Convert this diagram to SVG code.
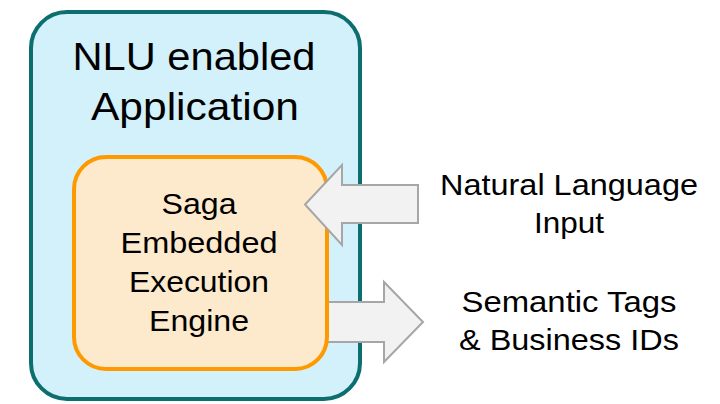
<svg xmlns="http://www.w3.org/2000/svg" width="720" height="404" viewBox="0 0 720 404">
<style>
text { font-family: "Liberation Sans", Arial, sans-serif; fill: #000; text-anchor: middle; }
.title { font-size: 39px; }
.lbl { font-size: 29.5px; }
.arrow { fill: #f2f2f2; stroke: #a6a6a6; stroke-width: 2; stroke-linejoin: miter; }
</style>
<rect width="720" height="404" fill="#ffffff"/>
<g id="app">
  <rect x="31" y="12" width="329" height="387" rx="36" ry="36" fill="#d3f1fb" stroke="#0c6e6e" stroke-width="4"/>
  <text class="title" x="194" y="70" textLength="243" lengthAdjust="spacingAndGlyphs">NLU enabled</text>
  <text class="title" x="195" y="120" textLength="208" lengthAdjust="spacingAndGlyphs">Application</text>
</g>
<g id="connectors">
  <polygon id="output-arrow" class="arrow" points="318,302 384,302 384,282 423,322 384,362 384,342 318,342"/>
</g>
<g id="engine">
  <rect x="74" y="157" width="253" height="212" rx="32" ry="32" fill="#fde9cb" stroke="#ff9900" stroke-width="4"/>
  <text class="lbl" x="199" y="214" textLength="75" lengthAdjust="spacingAndGlyphs">Saga</text>
  <text class="lbl" x="199" y="253" textLength="157" lengthAdjust="spacingAndGlyphs">Embedded</text>
  <text class="lbl" x="199" y="292" textLength="140" lengthAdjust="spacingAndGlyphs">Execution</text>
  <text class="lbl" x="199" y="331" textLength="100" lengthAdjust="spacingAndGlyphs">Engine</text>
</g>
<g id="connectors-top">
  <polygon id="input-arrow" class="arrow" points="418,185 342,185 342,165 305,204.5 342,245 342,223 418,223"/>
</g>
<g id="input-label">
  <text class="lbl" x="569" y="195" textLength="258" lengthAdjust="spacingAndGlyphs">Natural Language</text>
  <text class="lbl" x="569" y="233" textLength="70" lengthAdjust="spacingAndGlyphs">Input</text>
</g>
<g id="output-label">
  <text class="lbl" x="569" y="312" textLength="215" lengthAdjust="spacingAndGlyphs">Semantic Tags</text>
  <text class="lbl" x="569" y="350" textLength="220" lengthAdjust="spacingAndGlyphs">&amp; Business IDs</text>
</g>
</svg>
